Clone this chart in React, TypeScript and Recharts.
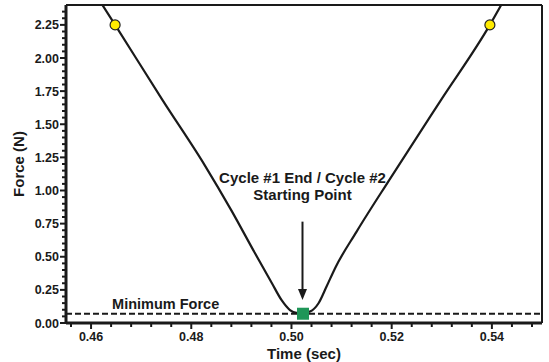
import React from 'react';
import {
  ComposedChart,
  Line,
  Scatter,
  XAxis,
  YAxis,
  ReferenceLine,
  ReferenceDot,
} from 'recharts';

// Force curve (time in sec, force in N)
const curveTime = [
  0.4621, 0.4648, 0.4743, 0.4827, 0.488, 0.4927, 0.4961, 0.498, 0.4997, 0.501,
  0.5022, 0.5037, 0.5054, 0.507, 0.5087, 0.513, 0.5197, 0.5297, 0.5396, 0.542,
];
const curveForce = [
  2.41, 2.25, 1.68, 1.19, 0.85, 0.528, 0.3, 0.174, 0.098, 0.076,
  0.073, 0.086, 0.149, 0.275, 0.414, 0.69, 1.09, 1.675, 2.25, 2.41,
];

// Yellow markers
const markerTime = [0.4648, 0.5396];
const markerForce = [2.25, 2.25];

// Green start point marker
const startTime = [0.5023];
const startForce = [0.07];

const MIN_FORCE = 0.07;
const ARROW_TIME = 0.5022;
const ARROW_TOP = 0.765;
const ARROW_TIP = 0.174;

const X_TICKS = [
  0.456, 0.46, 0.464, 0.468, 0.472, 0.476, 0.48, 0.484, 0.488, 0.492, 0.496, 0.5,
  0.504, 0.508, 0.512, 0.516, 0.52, 0.524, 0.528, 0.532, 0.536, 0.54, 0.544, 0.548,
];
const X_MAJOR = [0.46, 0.48, 0.5, 0.52, 0.54];
const Y_TICKS = [
  0, 0.05, 0.1, 0.15, 0.2, 0.25, 0.3, 0.35, 0.4, 0.45, 0.5, 0.55, 0.6, 0.65, 0.7,
  0.75, 0.8, 0.85, 0.9, 0.95, 1.0, 1.05, 1.1, 1.15, 1.2, 1.25, 1.3, 1.35, 1.4,
  1.45, 1.5, 1.55, 1.6, 1.65, 1.7, 1.75, 1.8, 1.85, 1.9, 1.95, 2.0, 2.05, 2.1,
  2.15, 2.2, 2.25, 2.3, 2.35,
];
const Y_MAJOR = [0, 0.25, 0.5, 0.75, 1.0, 1.25, 1.5, 1.75, 2.0, 2.25];

const curveData = curveTime.map((t, i) => ({ t, f: curveForce[i] }));
const markerData = markerTime.map((t, i) => ({ t, f: markerForce[i] }));
const startData = startTime.map((t, i) => ({ t, f: startForce[i] }));

const FONT = '"Liberation Sans", Arial, Helvetica, sans-serif';
const INK = '#1a1a1a';

const isMajor = (v: number, majors: number[]) =>
  majors.some((m) => Math.abs(m - v) < 1e-6);

const XTick = (props: any) => {
  const { x, y, payload } = props;
  const major = isMajor(payload.value, X_MAJOR);
  return (
    <g>
      <line x1={x} x2={x} y1={y} y2={y + (major ? 6 : 4)} stroke={INK} strokeWidth={2} />
      {major && (
        <text
          x={x}
          y={y + 18}
          textAnchor="middle"
          fontFamily={FONT}
          fontWeight="bold"
          fontSize={12.5}
          fill={INK}
        >
          {payload.value.toFixed(2)}
        </text>
      )}
    </g>
  );
};

const YTick = (props: any) => {
  const { x, y, payload } = props;
  const major = isMajor(payload.value, Y_MAJOR);
  return (
    <g>
      <line x1={x} x2={x - (major ? 6 : 4)} y1={y} y2={y} stroke={INK} strokeWidth={2} />
      {major && (
        <text
          x={x - 7}
          y={y + 4.5}
          textAnchor="end"
          fontFamily={FONT}
          fontWeight="bold"
          fontSize={12.5}
          fill={INK}
        >
          {payload.value.toFixed(2)}
        </text>
      )}
    </g>
  );
};

const YellowDot = (props: any) => (
  <circle cx={props.cx} cy={props.cy} r={5} fill="#ffeb00" stroke="#222" strokeWidth={1.2} />
);

const GreenSquare = (props: any) => (
  <rect x={props.cx - 6} y={props.cy - 6} width={12} height={12} fill="#1f9658" />
);

const ArrowHead = (props: any) => (
  <path
    d={`M ${props.cx} ${props.cy} L ${props.cx - 4.5} ${props.cy - 11} L ${props.cx + 4.5} ${props.cy - 11} Z`}
    fill={INK}
  />
);

const AnnotationText = (props: any) => (
  <text
    x={props.cx}
    y={props.cy}
    textAnchor="middle"
    fontFamily={FONT}
    fontWeight="bold"
    fontSize={15}
    fill={INK}
  >
    <tspan x={props.cx} dy={0}>Cycle #1 End / Cycle #2</tspan>
    <tspan x={props.cx} dy={17}>Starting Point</tspan>
  </text>
);

const MinForceText = (props: any) => (
  <text
    x={props.cx}
    y={props.cy}
    textAnchor="start"
    fontFamily={FONT}
    fontWeight="bold"
    fontSize={14.5}
    fill={INK}
  >
    Minimum Force
  </text>
);

export default function App() {
  return (
    <div style={{ position: 'absolute', left: 0, top: 0, background: '#fff' }}>
      <ComposedChart
        width={549}
        height={362}
        margin={{ top: 5, right: 7, left: 0, bottom: 0 }}
      >
        <XAxis
          dataKey="t"
          type="number"
          domain={[0.455, 0.55]}
          allowDataOverflow
          ticks={X_TICKS}
          interval={0}
          tick={<XTick />}
          tickLine={false}
          tickSize={0}
          tickMargin={0}
          height={39}
          axisLine={{ stroke: INK, strokeWidth: 3 }}
          label={{
            value: 'Time (sec)',
            position: 'insideBottom',
            offset: 3,
            style: { fontFamily: FONT, fontWeight: 'bold', fontSize: 15, fill: INK },
          }}
        />
        <YAxis
          dataKey="f"
          type="number"
          domain={[0, 2.4]}
          allowDataOverflow
          ticks={Y_TICKS}
          interval={0}
          tick={<YTick />}
          tickLine={false}
          tickSize={0}
          tickMargin={0}
          width={66}
          axisLine={{ stroke: INK, strokeWidth: 3 }}
          label={{
            value: 'Force (N)',
            angle: -90,
            position: 'insideLeft',
            offset: 19,
            style: { fontFamily: FONT, fontWeight: 'bold', fontSize: 15, fill: INK, textAnchor: 'middle' },
          }}
        />
        <ReferenceLine y={2.4} stroke={INK} strokeWidth={2} />
        <ReferenceLine x={0.55} stroke={INK} strokeWidth={2} />
        <ReferenceLine y={MIN_FORCE} stroke={INK} strokeWidth={2} strokeDasharray="6 3" />
        <ReferenceLine
          segment={[
            { x: ARROW_TIME, y: ARROW_TOP },
            { x: ARROW_TIME, y: ARROW_TIP + 0.07 },
          ]}
          stroke={INK}
          strokeWidth={2}
        />
        <ReferenceDot x={ARROW_TIME} y={ARROW_TIP} shape={<ArrowHead />} />
        <ReferenceDot x={ARROW_TIME} y={1.06} shape={<AnnotationText />} />
        <ReferenceDot x={0.4642} y={0.106} shape={<MinForceText />} />
        <Scatter data={startData} dataKey="f" shape={<GreenSquare />} isAnimationActive={false} />
        <Line
          data={curveData}
          dataKey="f"
          type="monotone"
          stroke={INK}
          strokeWidth={2.2}
          dot={false}
          isAnimationActive={false}
        />
        <Scatter data={markerData} dataKey="f" shape={<YellowDot />} isAnimationActive={false} />
      </ComposedChart>
    </div>
  );
}
